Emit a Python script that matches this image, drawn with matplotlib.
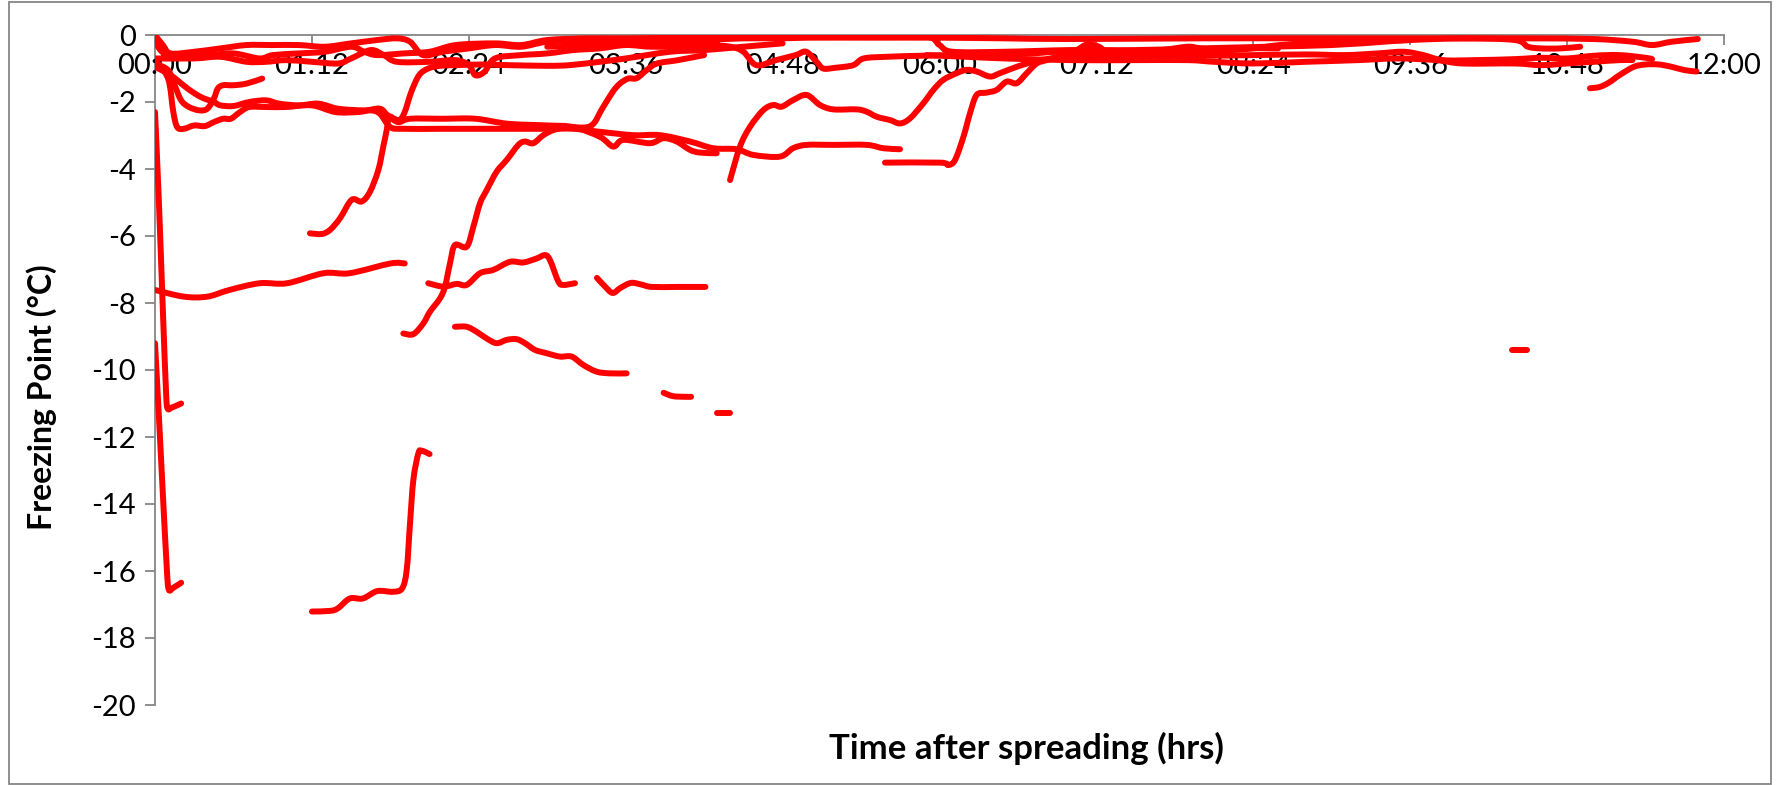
import matplotlib
matplotlib.use("Agg")
import matplotlib.pyplot as plt
from matplotlib.patches import Rectangle, PathPatch
from matplotlib.path import Path
from matplotlib.ticker import FixedLocator, FuncFormatter

# freezing point readings, time in hours after spreading, value in deg C
t01 = [0, 0.03, 0.06, 0.085, 0.097, 0.13, 0.20]
f01 = [-2.3, -5.0, -8.2, -10.7, -11.15, -11.12, -11.0]

t02 = [0, 0.03, 0.06, 0.09, 0.105, 0.14, 0.20]
f02 = [-9.2, -11.4, -13.7, -15.9, -16.55, -16.5, -16.35]

t03 = [0, 0.22, 0.40, 0.57, 0.80, 1.01, 1.29, 1.49, 1.80, 1.91]
f03 = [-7.61, -7.81, -7.81, -7.61, -7.41, -7.41, -7.11, -7.11, -6.82, -6.82]

t04 = [1.20, 1.34, 1.40, 1.49, 1.59, 1.70, 1.82, 1.89, 1.925, 1.95, 1.976, 2.014, 2.04, 2.10]
f04 = [-17.21, -17.19, -17.11, -16.82, -16.82, -16.60, -16.62, -16.52, -15.97, -14.6, -13.28, -12.49, -12.41, -12.51]

t05 = [1.185, 1.275, 1.338, 1.415, 1.504, 1.581, 1.644, 1.708, 1.746, 1.772, 1.79, 1.83, 1.87,
       1.91, 1.96, 2.02, 2.09, 2.18, 2.3, 2.5, 2.7, 3.0, 3.17, 3.4, 3.6, 3.94, 4.2, 4.5, 4.8]
f05 = [-5.92, -5.94, -5.82, -5.47, -4.92, -4.97, -4.68, -4.03, -3.33, -2.84, -2.45, -2.5, -2.55,
       -2.3, -1.7, -1.2, -1.0, -0.92, -0.9, -0.88, -0.9, -0.92, -0.9, -0.8, -0.7, -0.5, -0.45, -0.35, -0.25]

t06 = [1.899, 1.976, 2.052, 2.103, 2.18, 2.218, 2.256, 2.294, 2.384, 2.435, 2.486, 2.537, 2.613,
       2.69, 2.779, 2.83, 2.893, 2.97, 3.046, 3.15, 3.33, 3.42, 3.50, 3.556, 3.62, 3.684, 3.76,
       3.84, 4.0, 4.2]
f06 = [-8.91, -8.93, -8.61, -8.26, -7.86, -7.51, -6.82, -6.27, -6.32, -5.72, -5.02, -4.63, -4.08,
       -3.73, -3.28, -3.18, -3.23, -2.99, -2.84, -2.75, -2.72, -2.2, -1.7, -1.45, -1.3, -1.29, -1.05,
       -0.85, -0.75, -0.6]

t07 = [2.09, 2.205, 2.307, 2.384, 2.486, 2.588, 2.715, 2.817, 2.919, 2.983, 3.021, 3.085, 3.123, 3.212]
f07 = [-7.41, -7.51, -7.43, -7.46, -7.11, -7.01, -6.77, -6.79, -6.67, -6.57, -6.72, -7.36, -7.46, -7.41]

t08 = [3.38, 3.44, 3.50, 3.56, 3.64, 3.72, 3.80, 4.0, 4.21]
f08 = [-7.25, -7.5, -7.7, -7.55, -7.4, -7.45, -7.52, -7.52, -7.52]

t09 = [2.294, 2.384, 2.46, 2.537, 2.613, 2.69, 2.766, 2.83, 2.906, 2.996, 3.097, 3.187, 3.276, 3.378, 3.48, 3.607]
f09 = [-8.71, -8.71, -8.86, -9.06, -9.20, -9.10, -9.08, -9.20, -9.40, -9.50, -9.60, -9.60, -9.85, -10.05, -10.10, -10.10]

t10 = [3.89, 3.96, 4.05, 4.10]
f10 = [-10.68, -10.78, -10.8, -10.8]

t11 = [4.30, 4.40]
f11 = [-11.27, -11.27]

t12 = [10.38, 10.49]
f12 = [-9.4, -9.4]

t13 = [4.398, 4.474, 4.551, 4.653, 4.729, 4.793, 4.882, 4.984, 5.086, 5.188, 5.366, 5.443, 5.52,
       5.622, 5.698, 5.774, 5.876, 5.953, 6.029, 6.131, 6.208, 6.284, 6.386, 6.462, 6.59, 6.717,
       6.85, 7.0, 7.3, 7.6, 8.0, 8.4, 8.8, 9.1, 9.35, 9.55, 9.7, 9.85, 10.1, 10.4, 10.6, 10.8,
       11.0, 11.2, 11.4, 11.45]
f13 = [-4.33, -3.33, -2.74, -2.24, -2.09, -2.14, -1.94, -1.79, -2.09, -2.22, -2.22, -2.29, -2.44,
       -2.54, -2.64, -2.49, -2.04, -1.64, -1.34, -1.14, -1.04, -1.09, -1.24, -1.14, -0.95, -0.80,
       -0.7, -0.62, -0.6, -0.6, -0.62, -0.6, -0.58, -0.6, -0.55, -0.5, -0.6, -0.75, -0.75, -0.72,
       -0.68, -0.7, -0.62, -0.6, -0.68, -0.72]

t14 = [5.583, 6.004, 6.068, 6.119, 6.183, 6.233, 6.284, 6.361, 6.437, 6.514, 6.59, 6.667, 6.743,
       6.82, 6.95, 7.05, 7.13, 7.22, 7.3, 7.5, 7.7, 7.9, 8.0, 8.2, 8.4, 8.6, 8.8, 9.0, 9.3, 9.6]
f14 = [-3.81, -3.81, -3.88, -3.73, -3.04, -2.34, -1.79, -1.72, -1.64, -1.39, -1.44, -1.14, -0.85,
       -0.75, -0.6, -0.45, -0.28, -0.35, -0.55, -0.5, -0.45, -0.35, -0.4, -0.45, -0.4, -0.3, -0.25,
       -0.2, -0.18, -0.15]

t15 = [0, 0.10, 0.14, 0.17, 0.22, 0.30, 0.38, 0.45, 0.52, 0.58, 0.65, 0.72, 0.85, 1.0, 1.2, 1.38,
       1.55, 1.65, 1.72, 1.80, 1.9, 2.2, 2.6, 3.0, 3.2, 3.403, 3.658, 3.862, 4.092, 4.27, 4.449,
       4.576, 4.78, 4.88, 4.984, 5.188, 5.443, 5.57, 5.698]
f15 = [-0.75, -1.3, -2.3, -2.75, -2.8, -2.7, -2.72, -2.6, -2.5, -2.5, -2.3, -2.15, -2.15, -2.15,
       -2.1, -2.3, -2.3, -2.25, -2.35, -2.75, -2.8, -2.8, -2.8, -2.8, -2.8, -2.89, -2.99, -2.99,
       -3.18, -3.38, -3.41, -3.58, -3.63, -3.38, -3.28, -3.28, -3.28, -3.38, -3.41]

t16 = [0, 0.12, 0.25, 0.35, 0.45, 0.50, 0.60, 0.72, 0.85, 0.95, 1.1, 1.25, 1.4, 1.6, 1.72, 1.78,
       1.86, 1.95, 2.2, 2.45, 2.7, 3.0, 3.2, 3.403, 3.505, 3.582, 3.786, 3.888, 3.99, 4.092, 4.168, 4.296]
f16 = [-0.95, -1.2, -1.6, -1.85, -2.0, -2.1, -2.12, -2.0, -1.95, -2.05, -2.1, -2.05, -2.2, -2.25,
       -2.2, -2.4, -2.6, -2.5, -2.5, -2.5, -2.65, -2.7, -2.75, -3.04, -3.33, -3.13, -3.23, -3.08,
       -3.18, -3.43, -3.51, -3.53]

t17 = [0, 0.10, 0.15, 0.20, 0.26, 0.34, 0.40, 0.45, 0.48, 0.52, 0.60, 0.70, 0.82]
f17 = [-0.85, -1.05, -1.5, -1.95, -2.15, -2.25, -2.2, -1.9, -1.6, -1.5, -1.5, -1.45, -1.3]

t18 = [0, 0.06, 0.12, 0.3, 0.5, 0.7, 0.9, 1.1, 1.3, 1.5, 1.7, 1.85, 1.95, 2.05, 2.2, 2.4, 2.6,
       2.8, 3.0, 3.3, 3.6, 3.9, 4.2, 4.5, 4.8, 5.0, 5.5, 6.0, 6.5, 7.0, 8.0, 9.0, 10.0, 10.5, 11.0,
       11.3, 11.45, 11.6, 11.8]
f18 = [0, -0.3, -0.55, -0.5, -0.4, -0.3, -0.3, -0.3, -0.35, -0.25, -0.15, -0.1, -0.2, -0.6, -0.5,
       -0.4, -0.3, -0.35, -0.2, -0.15, -0.15, -0.2, -0.15, -0.1, -0.1, -0.08, -0.08, -0.08, -0.1,
       -0.12, -0.1, -0.1, -0.1, -0.1, -0.12, -0.2, -0.3, -0.2, -0.12]

t19 = [0, 0.1, 0.4, 0.6, 0.8, 0.9, 1.1, 1.3, 1.5, 1.6, 1.7, 1.9, 2.1, 2.3, 2.6, 2.8, 3.0, 3.3,
       3.6, 4.0, 4.5, 5.0, 5.5, 5.9, 6.0, 6.1, 6.5, 7.0, 7.5, 8.0, 8.5, 9.0, 9.4, 9.6, 10.0, 10.4,
       10.5, 10.6, 10.75, 10.9]
f19 = [-0.2, -0.6, -0.6, -0.55, -0.7, -0.6, -0.55, -0.5, -0.35, -0.5, -0.6, -0.55, -0.5, -0.3,
       -0.25, -0.3, -0.15, -0.1, -0.1, -0.08, -0.05, -0.05, -0.05, -0.05, -0.3, -0.5, -0.5, -0.45,
       -0.45, -0.4, -0.35, -0.3, -0.2, -0.15, -0.1, -0.15, -0.35, -0.4, -0.4, -0.35]

t20 = [0, 0.3, 0.5, 0.7, 0.85, 1.0, 1.2, 1.4, 1.5, 1.65, 1.75, 1.85, 2.1, 2.3, 2.4, 2.45, 2.52,
       2.6, 2.8, 3.0, 3.2, 3.4, 3.6, 3.8, 4.0, 4.3]
f20 = [-0.7, -0.7, -0.65, -0.8, -0.8, -0.75, -0.8, -0.85, -0.7, -0.45, -0.6, -0.8, -0.8, -0.75,
       -0.9, -1.2, -1.1, -0.7, -0.6, -0.55, -0.45, -0.4, -0.3, -0.35, -0.3, -0.2]

t21 = [3.0, 3.3, 3.6, 3.9, 4.2, 4.4, 4.5, 4.6, 4.75, 4.9, 4.98, 5.06, 5.11, 5.2, 5.34, 5.42, 5.6,
       5.85, 6.1, 6.4, 6.7, 6.9, 7.2, 7.6, 8.0, 8.3, 8.59]
f21 = [-0.35, -0.3, -0.25, -0.35, -0.3, -0.35, -0.5, -0.9, -0.75, -0.6, -0.5, -0.8, -1.0, -0.98,
       -0.9, -0.7, -0.65, -0.62, -0.6, -0.58, -0.55, -0.5, -0.5, -0.5, -0.5, -0.4, -0.4]

t22 = [5.9, 6.2, 6.5, 7.0, 7.5, 7.9, 8.1, 8.4, 8.8, 9.2, 9.5, 9.8, 10.0, 10.4, 10.6, 10.8, 11.0, 11.2, 11.3]
f22 = [-0.6, -0.65, -0.7, -0.75, -0.75, -0.75, -0.8, -0.85, -0.8, -0.75, -0.7, -0.75, -0.85,
       -0.85, -0.9, -0.85, -0.8, -0.75, -0.75]

t23 = [10.975, 11.05, 11.12, 11.2, 11.31, 11.4, 11.5, 11.6, 11.7, 11.79]
f23 = [-1.59, -1.55, -1.42, -1.2, -0.95, -0.88, -0.88, -0.95, -1.05, -1.09]

runs = [(t01, f01), (t02, f02), (t03, f03), (t04, f04), (t05, f05), (t06, f06), (t07, f07),
        (t08, f08), (t09, f09), (t10, f10), (t11, f11), (t12, f12), (t13, f13), (t14, f14),
        (t15, f15), (t16, f16), (t17, f17), (t18, f18), (t19, f19), (t20, f20), (t21, f21),
        (t22, f22), (t23, f23)]

x_ticks = [0, 1.2, 2.4, 3.6, 4.8, 6.0, 7.2, 8.4, 9.6, 10.8, 12.0]
y_ticks = [0, -2, -4, -6, -8, -10, -12, -14, -16, -18, -20]

AXIS_GREY = '#868686'
plt.rcParams['font.family'] = ['Lato', 'DejaVu Sans']


def smooth_path(xs, ys):
    # smoothed line like a spreadsheet: one bezier piece between each pair of readings
    pts = list(zip(xs, ys))
    if len(pts) < 3:
        return Path(pts)
    verts = [pts[0]]
    codes = [Path.MOVETO]
    n = len(pts)
    for i in range(n - 1):
        p0 = pts[i - 1] if i > 0 else pts[i]
        p1 = pts[i]
        p2 = pts[i + 1]
        p3 = pts[i + 2] if i + 2 < n else pts[i + 1]
        c1 = (p1[0] + (p2[0] - p0[0]) / 6.0, p1[1] + (p2[1] - p0[1]) / 6.0)
        c2 = (p2[0] - (p3[0] - p1[0]) / 6.0, p2[1] - (p3[1] - p1[1]) / 6.0)
        verts += [c1, c2, p2]
        codes += [Path.CURVE4] * 3
    return Path(verts, codes)


fig = plt.figure(figsize=(17.78, 7.85), dpi=100)
ax = fig.add_axes([155 / 1778, 80 / 785, 1569 / 1778, 670 / 785])

for t, f in runs:
    ax.add_patch(PathPatch(smooth_path(t, f), fill=False, edgecolor='#ff0000', linewidth=4.3,
                           capstyle='round', joinstyle='round', zorder=3))

ax.set_xlim(0, 12)
ax.set_ylim(-20, 0)

# horizontal axis crosses at zero, so it sits along the top
ax.spines['bottom'].set_position(('data', 0))
ax.spines['top'].set_visible(False)
ax.spines['right'].set_visible(False)
for s in ('bottom', 'left'):
    ax.spines[s].set_color(AXIS_GREY)
    ax.spines[s].set_linewidth(1.3)
    ax.spines[s].set_zorder(0.5)

ax.xaxis.set_major_locator(FixedLocator(x_ticks))
ax.xaxis.set_major_formatter(FuncFormatter(
    lambda h, pos: '%02d:%02d' % divmod(int(round(h * 60)), 60)))
ax.yaxis.set_major_locator(FixedLocator(y_ticks))
ax.yaxis.set_major_formatter(FuncFormatter(lambda v, pos: '%d' % v))
ax.tick_params(axis='both', direction='out', length=7, width=1.3, color=AXIS_GREY,
               labelsize=21, labelcolor='black')
ax.tick_params(axis='x', pad=6)
ax.tick_params(axis='y', pad=7)

fig.text(1026 / 1778, 1 - 748 / 785, 'Time after spreading (hrs)', ha='center', va='center',
         fontsize=25, fontweight='bold')
fig.text(42 / 1778, 1 - 397 / 785, 'Freezing Point (\u00b0C)', ha='center', va='center',
         rotation=90, fontsize=23, fontweight='bold')

# chart area border
fig.patches.append(Rectangle((9 / 1778, 1 / 785), 1762 / 1778, 782 / 785,
                             transform=fig.transFigure, fill=False, edgecolor=AXIS_GREY,
                             linewidth=1.3))

fig.savefig('out.png', dpi=100)
